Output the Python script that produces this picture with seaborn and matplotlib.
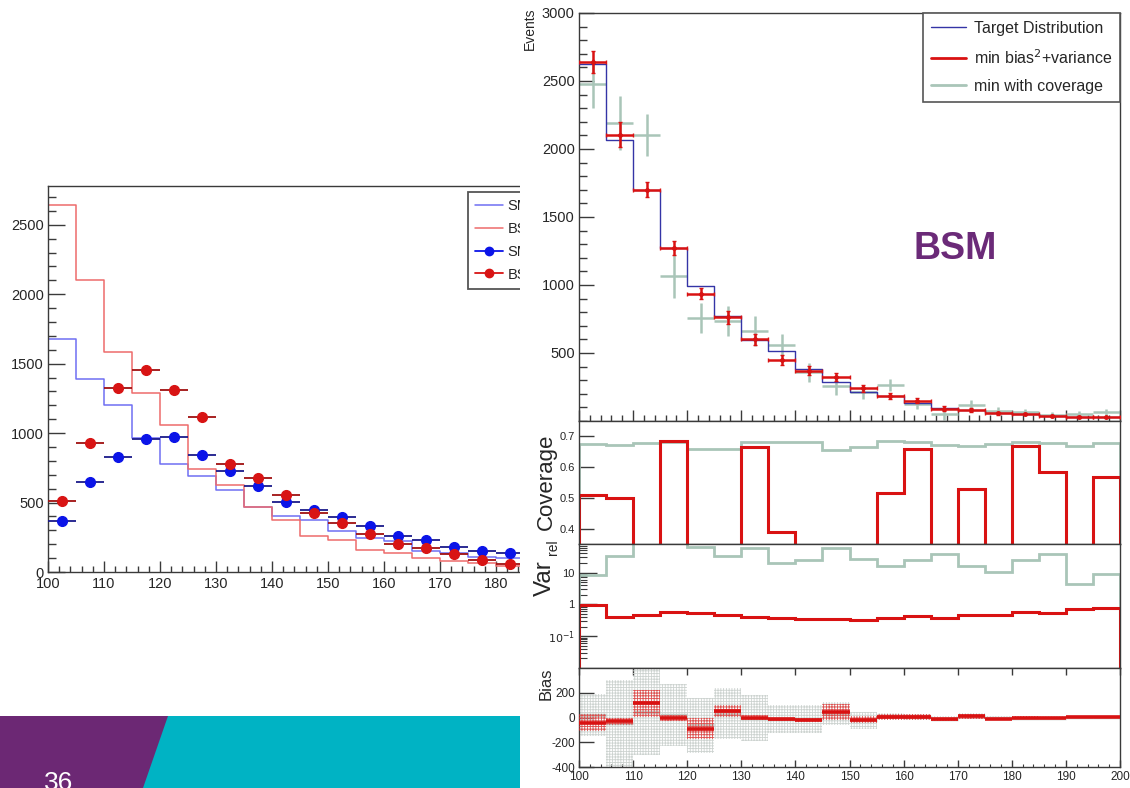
import numpy as np
import pandas as pd
import matplotlib
matplotlib.use("Agg")
import matplotlib.pyplot as plt
import seaborn as sns
from matplotlib.lines import Line2D
from matplotlib.patches import Polygon, Rectangle
from matplotlib.ticker import MultipleLocator, FixedLocator, LogLocator, NullFormatter

# ---------------- data ----------------
edges = np.arange(100, 205, 5)
centers = edges[:-1] + 2.5

# left panel: SM / BSM templates and pseudo-data
sm_hist = [1675, 1389, 1200, 967, 780, 689, 593, 468, 401, 377,
           295, 247, 221, 149, 137, 108, 101, 90, 80, 70]
bsm_hist = [2644, 2099, 1581, 1291, 1056, 739, 624, 468, 377, 257,
            233, 161, 137, 101, 77, 67, 41, 35, 25, 20]
sm_points = [365, 648, 830, 960, 972, 840, 729, 619, 506, 449,
             396, 333, 257, 233, 180, 149, 139, 125, 110, 100]
bsm_points = [509, 929, 1327, 1452, 1312, 1118, 780, 677, 552, 427,
              353, 274, 204, 170, 132, 89, 55, 40, 30, 25]

# right panel: unfolded BSM spectrum
target = [2625, 2069, 1701, 1272, 995, 770, 598, 512, 381, 285,
          216, 181, 135, 98, 80, 60, 50, 40, 33, 28]
fit_bv = [2640, 2105, 1701, 1272, 936, 762, 600, 449, 370, 326,
          240, 184, 149, 91, 81, 56, 51, 37, 32, 27]
fit_bv_err = [80, 90, 55, 55, 40, 50, 40, 35, 35, 30,
              28, 25, 20, 18, 15, 12, 10, 8, 8, 6]
fit_cov = [2480, 2191, 2105, 1064, 757, 733, 659, 561, 358, 255,
           215, 265, 125, 51, 118, 74, 63, 44, 51, 63]
fit_cov_err = [180, 200, 155, 160, 110, 110, 110, 80, 68, 65,
               50, 45, 40, 40, 40, 30, 25, 25, 25, 25]

# coverage per bin
cov_bv = [0.51, 0.50, 0.30, 0.685, 0.30, 0.30, 0.664, 0.391, 0.30, 0.30,
          0.30, 0.517, 0.658, 0.30, 0.530, 0.30, 0.669, 0.585, 0.30, 0.569]
cov_cov = [0.676, 0.673, 0.679, 0.680, 0.660, 0.660, 0.682, 0.682, 0.682, 0.657,
           0.666, 0.684, 0.682, 0.673, 0.668, 0.676, 0.682, 0.679, 0.668, 0.679]

# relative variance per bin
var_bv = [0.95, 0.41, 0.45, 0.59, 0.55, 0.46, 0.41, 0.36, 0.34, 0.34,
          0.32, 0.36, 0.43, 0.38, 0.46, 0.45, 0.56, 0.55, 0.70, 0.79]
var_cov = [8.3, 32, 100, 100, 65, 32, 59, 20, 25, 59,
           27, 16.6, 25, 39, 16.6, 10.2, 24, 39, 4.5, 9.1]

# bias per bin with uncertainty bands
bias_bv = [-43, -30, 114, -3, -89, 54, 0, -16, -22, 46,
           -18, 5, 5, -16, 11, -11, 0, -3, 5, 5]
bias_bv_err = [70, 30, 107, 25, 88, 50, 20, 15, 15, 67,
               30, 25, 25, 12, 20, 10, 10, 10, 8, 8]
bias_cov = [19, -48, 46, 19, -62, 32, -3, -15, -15, 32,
            -22, 10, 5, -10, 10, -5, 0, 0, 5, 5]
bias_cov_err = [172, 350, 348, 248, 222, 208, 188, 114, 114, 94,
                67, 30, 25, 20, 25, 15, 15, 12, 10, 10]

x_ticks = list(range(100, 201, 10))
x_labels = [str(v) for v in x_ticks]

# ---------------- style ----------------
sns.set_style("ticks", {"xtick.direction": "in", "ytick.direction": "in"})
plt.rcParams["font.family"] = ["Liberation Sans", "DejaVu Sans"]
plt.rcParams["hatch.linewidth"] = 0.6

W, H = 1130, 788
fig = plt.figure(figsize=(W / 100, H / 100), dpi=100)
fig.patch.set_facecolor("white")


def box(x0, y0, x1, y1):
    return [x0 / W, 1 - y1 / H, (x1 - x0) / W, (y1 - y0) / H]


SPINE = "#3a3a3a"
C_SM_LINE, C_BSM_LINE = "#6f6ff2", "#ee6b6b"
C_SM_PT, C_BSM_PT = "#0b14e8", "#d81414"
C_TARGET, C_RED, C_GREY = "#3434a6", "#d91212", "#a9c5b8"


def frame(ax):
    for s in ax.spines.values():
        s.set_color(SPINE)
        s.set_linewidth(1.0)
        s.set_visible(True)
    ax.set_xlabel("")
    ax.set_ylabel("")


def step_hist(ax, values, color, lw, zorder=2):
    df = pd.DataFrame({"mass": centers, "count": values})
    sns.histplot(data=df, x="mass", weights="count", binwidth=5, binrange=(100, 200),
                 element="step", fill=False, color=color, linewidth=lw, ax=ax, zorder=zorder)


# ---------------- left panel ----------------
axl = fig.add_axes(box(48, 186, 608, 572))
step_hist(axl, sm_hist, C_SM_LINE, 1.1)
step_hist(axl, bsm_hist, C_BSM_LINE, 1.1)
axl.errorbar(centers, sm_points, xerr=2.5, fmt="o", ms=7, color=C_SM_PT,
             ecolor="#1a1a8a", elinewidth=1.3, capsize=0, zorder=3)
axl.errorbar(centers, bsm_points, xerr=2.5, fmt="o", ms=7, color=C_BSM_PT,
             ecolor="#a01010", elinewidth=1.3, capsize=0, zorder=4)
axl.set_xlim(100, 200)
axl.set_ylim(0, 2779)
# the right part of this panel sits under the second canvas: label only what stays visible
axl.xaxis.set_major_locator(FixedLocator(x_ticks))
axl.set_xticklabels([lab if v <= 180 else "" for v, lab in zip(x_ticks, x_labels)])
axl.xaxis.set_minor_locator(MultipleLocator(2))
axl.yaxis.set_major_locator(MultipleLocator(500))
axl.yaxis.set_minor_locator(MultipleLocator(100))
axl.tick_params(which="major", axis="y", length=12, width=1, color=SPINE, labelsize=10.5, pad=3)
axl.tick_params(which="minor", axis="y", length=6, width=1, color=SPINE)
axl.tick_params(which="major", axis="x", length=8, width=1, color=SPINE, labelsize=10.5, pad=3.5)
axl.tick_params(which="minor", axis="x", length=4, width=1, color=SPINE)
frame(axl)
axl.spines["right"].set_visible(False)
left_handles = [
    Line2D([], [], color=C_SM_LINE, lw=1.1),
    Line2D([], [], color=C_BSM_LINE, lw=1.1),
    Line2D([], [], color=C_SM_PT, lw=1.3, marker="o", ms=6),
    Line2D([], [], color=C_BSM_PT, lw=1.3, marker="o", ms=6),
]
legl = axl.legend(left_handles, ["SM", "BSM", "SM", "BSM"], loc="upper left",
                  bbox_to_anchor=((468 - 48) / 560, (572 - 192) / 386),
                  fontsize=10.5, frameon=True, fancybox=False, framealpha=1,
                  edgecolor="#555555", handlelength=1.9, handletextpad=0.3,
                  labelspacing=0.6, borderpad=0.5, borderaxespad=0)
legl.get_frame().set_linewidth(1.3)

# cover for the right-hand canvas
fig.patches.append(Rectangle((520 / W, 0), 1 - 520 / W, 1, transform=fig.transFigure,
                             facecolor="white", edgecolor="none", zorder=0.5))

# ---------------- right: main spectrum ----------------
axm = fig.add_axes(box(579, 13, 1120, 421))
axm.set_zorder(1)
axm.errorbar(centers, fit_cov, xerr=2.5, yerr=fit_cov_err, fmt="none",
             ecolor=C_GREY, elinewidth=1.8, capsize=0, zorder=2)
step_hist(axm, target, C_TARGET, 1.0, zorder=3)
axm.errorbar(centers, fit_bv, xerr=2.5, yerr=fit_bv_err, fmt="o", ms=2.5,
             color=C_RED, ecolor=C_RED, elinewidth=1.8, capsize=1.2, zorder=4)
axm.set_xlim(100, 200)
axm.set_ylim(0, 3000)
axm.xaxis.set_major_locator(MultipleLocator(10))
axm.xaxis.set_minor_locator(MultipleLocator(2))
axm.yaxis.set_major_locator(FixedLocator([500, 1000, 1500, 2000, 2500, 3000]))
axm.yaxis.set_minor_locator(MultipleLocator(100))
axm.tick_params(which="major", axis="y", length=11, width=1, color=SPINE, labelsize=10.5, pad=3)
axm.tick_params(which="minor", axis="y", length=5.5, width=1, color=SPINE)
axm.tick_params(which="major", axis="x", length=8, width=1, color=SPINE, labelbottom=False)
axm.tick_params(which="minor", axis="x", length=4, width=1, color=SPINE)
frame(axm)
right_handles = [Line2D([], [], color=C_TARGET, lw=1.0),
                 Line2D([], [], color=C_RED, lw=2.0),
                 Line2D([], [], color=C_GREY, lw=2.0)]
legr = axm.legend(right_handles,
                  ["Target Distribution", r"min bias$^{2}$+variance", "min with coverage"],
                  loc="upper right", bbox_to_anchor=(1, 1), borderaxespad=0,
                  fontsize=11.5, frameon=True, fancybox=False, framealpha=1,
                  edgecolor="#555555", handlelength=2.2, handletextpad=0.5,
                  labelspacing=0.75, borderpad=0.5)
legr.get_frame().set_linewidth(1.2)
axm.text((955 - 579) / 541, (421 - 249) / 408, "BSM", transform=axm.transAxes,
         ha="center", va="center", fontsize=27, fontweight="bold", color="#6b2a78")

# ---------------- right: coverage ----------------
axc = fig.add_axes(box(579, 421, 1120, 544))
axc.set_zorder(1)
axc.stairs(cov_cov, edges, baseline=0, color=C_GREY, lw=2.0)
axc.stairs(cov_bv, edges, baseline=0, color=C_RED, lw=2.2)
axc.set_xlim(100, 200)
axc.set_ylim(0.3526, 0.749)
axc.yaxis.set_major_locator(FixedLocator([0.4, 0.5, 0.6, 0.7]))
axc.set_yticklabels(["0.4", "0.5", "0.6", "0.7"])
axc.xaxis.set_major_locator(FixedLocator([]))
axc.tick_params(axis="y", length=11, width=1, color=SPINE, labelsize=8, pad=3)
frame(axc)

# ---------------- right: relative variance ----------------
axv = fig.add_axes(box(579, 544, 1120, 668))
axv.set_zorder(1)
axv.stairs(var_cov, edges, baseline=1e-4, color=C_GREY, lw=2.0)
axv.stairs(var_bv, edges, baseline=1e-4, color=C_RED, lw=2.2)
axv.set_yscale("log")
axv.set_xlim(100, 200)
axv.set_ylim(0.01, 79)
axv.yaxis.set_major_locator(FixedLocator([0.1, 1, 10]))
axv.set_yticklabels([r"$10^{-1}$", "1", "10"])
axv.yaxis.set_minor_locator(LogLocator(base=10, subs=np.arange(2, 10) * 1.0, numticks=12))
axv.yaxis.set_minor_formatter(NullFormatter())
axv.xaxis.set_major_locator(FixedLocator([]))
axv.tick_params(which="major", axis="y", length=13, width=1, color=SPINE, labelsize=8, pad=3)
axv.tick_params(which="minor", axis="y", length=6, width=0.8, color=SPINE)
frame(axv)

# ---------------- right: bias ----------------
axb = fig.add_axes(box(579, 668, 1120, 767))
axb.set_zorder(1)
bc, bce = np.asarray(bias_cov), np.asarray(bias_cov_err)
bb, bbe = np.asarray(bias_bv), np.asarray(bias_bv_err)
axb.bar(centers, 2 * bce, bottom=bc - bce, width=5, facecolor="none",
        edgecolor="#cdd3d0", hatch="++++++", linewidth=0, zorder=1)
axb.errorbar(centers, bias_cov, xerr=2.5, fmt="none", ecolor="#c2cbc6", elinewidth=2.5, zorder=2)
axb.bar(centers, 2 * bbe, bottom=bb - bbe, width=5, facecolor="none",
        edgecolor=(0.9, 0.15, 0.15, 0.75), hatch="++++++", linewidth=0, zorder=3)
axb.errorbar(centers, bias_bv, xerr=2.5, fmt="none", ecolor=C_RED, elinewidth=2.6, zorder=4)
axb.set_xlim(100, 200)
axb.set_ylim(-400, 400)
axb.xaxis.set_major_locator(FixedLocator(x_ticks))
axb.set_xticklabels(x_labels)
axb.xaxis.set_minor_locator(MultipleLocator(2))
axb.yaxis.set_major_locator(FixedLocator([-400, -200, 0, 200]))
axb.set_yticklabels(["-400", "-200", "0", "200"])
axb.yaxis.set_minor_locator(MultipleLocator(100))
axb.tick_params(which="major", axis="y", length=11, width=1, color=SPINE, labelsize=8.5, pad=3)
axb.tick_params(which="minor", axis="y", length=0)
axb.tick_params(which="major", axis="x", length=5, width=1, color=SPINE, labelsize=8.5, pad=3, top=True)
axb.tick_params(which="minor", axis="x", length=2.5, width=0.8, color=SPINE)
frame(axb)

# axis titles of the right-hand canvas
fig.text(530 / W, 1 - 8 / H, "Events", rotation=90, ha="center", va="top", fontsize=10, zorder=3)
fig.text(546 / W, 1 - 482 / H, "Coverage", rotation=90, ha="center", va="center", fontsize=16, zorder=3)
fig.text(545 / W, 1 - 596 / H, "Var", rotation=90, ha="center", va="bottom", fontsize=17.5, zorder=3)
fig.text(553 / W, 1 - 555 / H, "rel", rotation=90, ha="center", va="bottom", fontsize=10, zorder=3)
fig.text(546 / W, 1 - 684 / H, "Bias", rotation=90, ha="center", va="center", fontsize=12, zorder=3)

# slide footer band
fig.patches.append(Polygon([(0, 1 - 716 / H), (520 / W, 1 - 716 / H), (520 / W, 0), (0, 0)],
                           closed=True, transform=fig.transFigure, facecolor="#00b3c4",
                           edgecolor="none", zorder=2))
fig.patches.append(Polygon([(0, 1 - 716 / H), (168 / W, 1 - 716 / H), (143 / W, 0), (0, 0)],
                           closed=True, transform=fig.transFigure, facecolor="#6c2874",
                           edgecolor="none", zorder=2.1))
fig.text(44 / W, 1 - 790 / H, "36", ha="left", va="baseline", fontsize=19, color="white", zorder=3)

fig.savefig("out.png", dpi=100, facecolor="white")
